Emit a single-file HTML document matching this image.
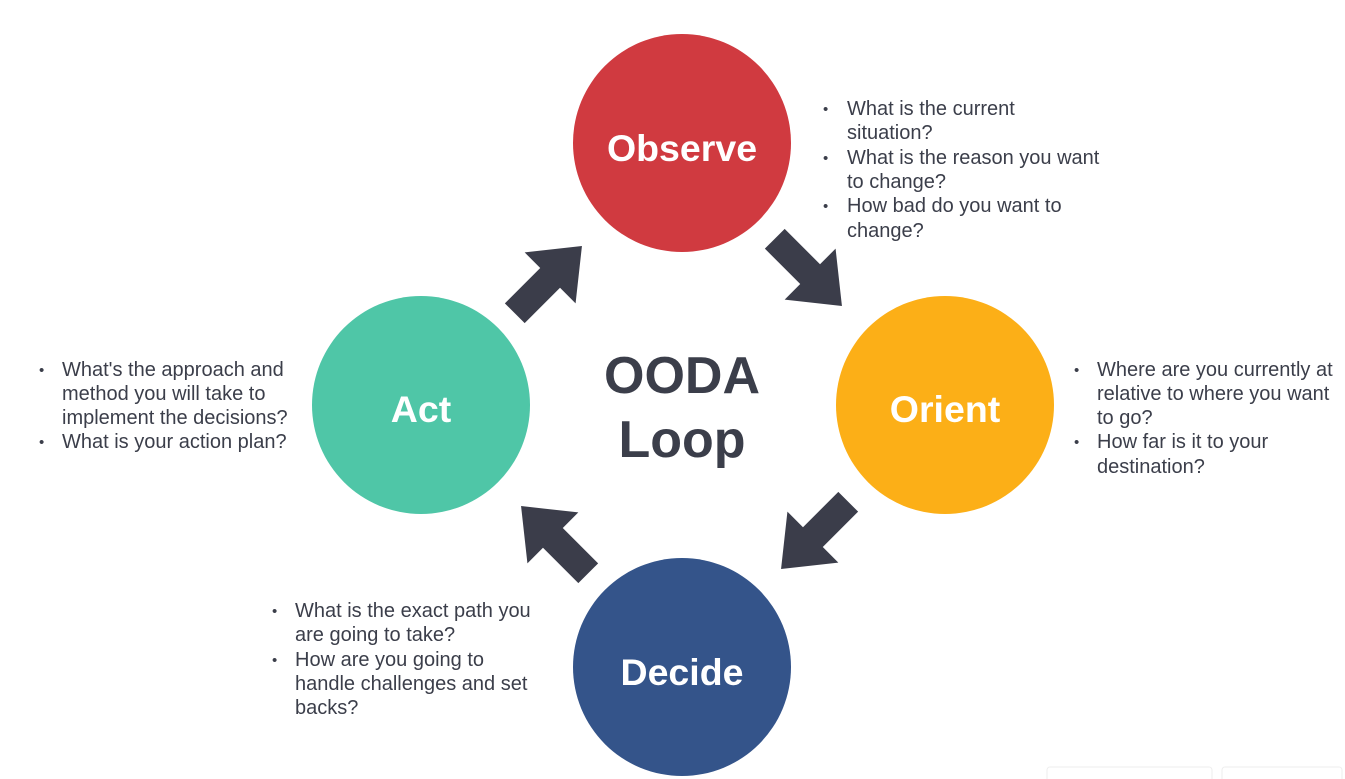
<!DOCTYPE html>
<html><head><meta charset="utf-8"><style>
html,body{margin:0;padding:0;background:#fff;width:1345px;height:779px;overflow:hidden}
svg{display:block}
text{font-family:"Liberation Sans",Arial,sans-serif}
.b{font-size:20px;fill:#3b3e4a}
.d{font-size:15px}
.t{font-size:37.5px;font-weight:bold;fill:#fff}
</style></head><body>
<svg width="1345" height="779" viewBox="0 0 1345 779" xmlns="http://www.w3.org/2000/svg">
<defs>
<polygon id="arr" points="-47,-14 3,-14 3,-36 48,0 3,36 3,14 -47,14" fill="#3b3d4a"/>
</defs>
<circle cx="682" cy="143" r="109" fill="#d03a40"/>
<circle cx="945" cy="405" r="109" fill="#fcaf17"/>
<circle cx="682" cy="667" r="109" fill="#34548a"/>
<circle cx="421" cy="405" r="109" fill="#4fc6a7"/>
<text class="t" x="682" y="161" text-anchor="middle">Observe</text>
<text class="t" x="945" y="422" text-anchor="middle">Orient</text>
<text class="t" x="682" y="685" text-anchor="middle">Decide</text>
<text class="t" x="421" y="422" text-anchor="middle">Act</text>
<text x="682" y="393" text-anchor="middle" style="font-size:52px;font-weight:bold;fill:#3b3e4a">OODA</text>
<text x="682" y="457" text-anchor="middle" style="font-size:52px;font-weight:bold;fill:#3b3e4a">Loop</text>
<use href="#arr" transform="translate(808,272) rotate(45)"/>
<use href="#arr" transform="translate(815,535) rotate(135)"/>
<use href="#arr" transform="translate(555,540) rotate(-135)"/>
<use href="#arr" transform="translate(548,280) rotate(-45)"/>
<g class="b">
<text class="d" x="823" y="114">•</text><text x="847" y="115">What is the current</text>
<text x="847" y="139">situation?</text>
<text class="d" x="823" y="163">•</text><text x="847" y="164">What is the reason you want</text>
<text x="847" y="188">to change?</text>
<text class="d" x="823" y="211">•</text><text x="847" y="212">How bad do you want to</text>
<text x="847" y="237">change?</text>

<text class="d" x="1074" y="375">•</text><text x="1097" y="376">Where are you currently at</text>
<text x="1097" y="400">relative to where you want</text>
<text x="1097" y="424">to go?</text>
<text class="d" x="1074" y="447">•</text><text x="1097" y="448">How far is it to your</text>
<text x="1097" y="473">destination?</text>

<text class="d" x="39" y="375">•</text><text x="62" y="376">What's the approach and</text>
<text x="62" y="400">method you will take to</text>
<text x="62" y="424">implement the decisions?</text>
<text class="d" x="39" y="447">•</text><text x="62" y="448">What is your action plan?</text>

<text class="d" x="272" y="616">•</text><text x="295" y="617">What is the exact path you</text>
<text x="295" y="641">are going to take?</text>
<text class="d" x="272" y="665">•</text><text x="295" y="666">How are you going to</text>
<text x="295" y="690">handle challenges and set</text>
<text x="295" y="714">backs?</text>
</g>
<rect x="1047" y="767" width="165" height="20" rx="3" fill="none" stroke="#eee"/>
<rect x="1222" y="767" width="120" height="20" rx="3" fill="none" stroke="#eee"/>
</svg>
</body></html>
